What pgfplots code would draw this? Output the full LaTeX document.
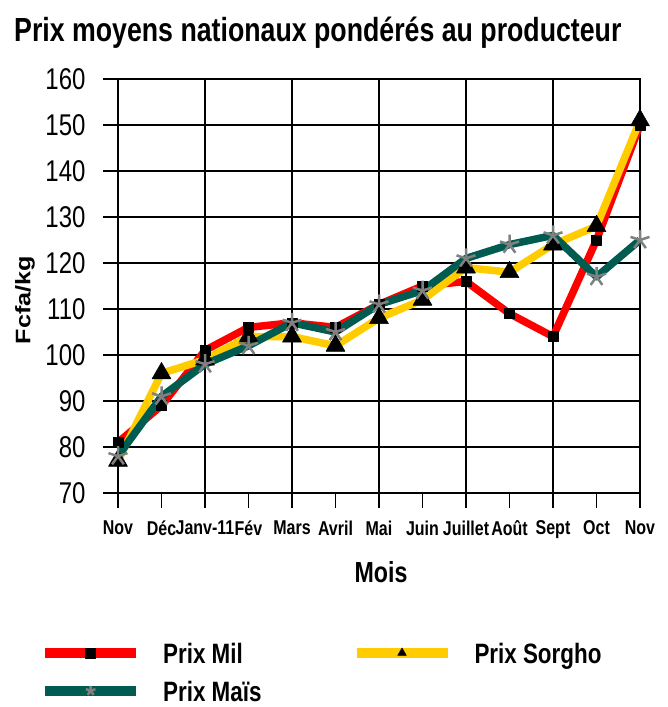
\documentclass[border=0pt]{standalone}
\usepackage{fontspec}
\setmainfont{Liberation Sans}[FakeStretch=0.8]
\newfontfamily\ylabfont{Liberation Sans}[FakeStretch=1.2]
\usepackage{pgfplots}
\pgfplotsset{compat=1.18}
\definecolor{milred}{RGB}{255,0,0}
\definecolor{sorgho}{RGB}{255,204,0}
\definecolor{mais}{RGB}{0,92,80}
\begin{document}
\begin{tikzpicture}[x=1pt,y=1pt]
\useasboundingbox (0,0) rectangle (667,707);
\node[anchor=base west, inner sep=0pt, font=\bfseries\fontsize{33.4}{38}\selectfont] at (14,665) {Prix moyens nationaux pondérés au producteur};
\begin{axis}[at={(118pt,214pt)}, anchor=south west, scale only axis,
  width=522pt, height=414pt,
  xmin=0, xmax=12, ymin=70, ymax=160,
  clip=false,
  xtick={0,...,12},
  xticklabels={Nov,Déc,Janv-11,Fév,Mars,Avril,Mai,Juin,Juillet,Août,Sept,Oct,Nov},
  ytick={70,80,...,160},
  ymajorgrids,
  extra x ticks={0,2,...,12}, extra x tick labels={},
  extra x tick style={xmajorgrids=true, major tick length=0pt},
  xtick pos=bottom, ytick pos=left,
  tick align=outside, major tick length=15pt,
  grid style={black, line width=1.2pt},
  axis line style={black, line width=1.5pt},
  tick style={black, line width=1.2pt},
  /pgf/number format/assume math mode=true,
  yticklabel style={font=\fontsize{30}{30}\selectfont, xshift=-14pt},
  xticklabel style={font=\bfseries\fontsize{20}{20}\selectfont, yshift=-9pt},
  xlabel={Mois},
  xlabel style={at={(axis description cs:0.504,-0.191)}, anchor=center, font=\bfseries\fontsize{29}{29}\selectfont},
  ylabel={Fcfa/kg},
  ylabel style={at={(axis description cs:-0.178,0.466)}, anchor=center, rotate=0, font=\ylabfont\bfseries\fontsize{21}{21}\selectfont},
  legend columns=2,
  legend style={at={(axis description cs:-0.1495,-0.362)}, anchor=north west, draw=none, fill=none,
    inner sep=0pt, nodes={inner sep=0pt}, row sep=16pt,
    font=\bfseries\fontsize{28}{28}\selectfont,
    /tikz/every odd column/.append style={column sep=22pt},
    /tikz/every even column/.append style={column sep=90pt}},
  legend cell align=left,
  legend image code/.code={\draw[mark repeat=2,mark phase=2,#1,line width=10pt,mark size=5pt] plot coordinates {(0pt,1pt) (45.5pt,1pt) (91pt,1pt)};},
  every axis plot/.append style={line join=round},
]
\addplot[milred, line width=7.5pt, mark=square*, mark size=5pt, mark options={black, line width=0.5pt}]
  coordinates {(0,81) (1,89) (2,101) (3,106) (4,107) (5,106) (6,111) (7,115) (8,116) (9,109) (10,104) (11,125) (12,150)};
\addlegendentry{Prix Mil}
\addplot[sorgho, line width=7.5pt, mark=triangle*, mark size=11pt, mark options={black, line width=0.5pt}]
  coordinates {(0,77) (1,96) (2,99) (3,104) (4,104) (5,102) (6,108) (7,112) (8,119) (9,118) (10,124) (11,128) (12,151)};
\addlegendentry{Prix Sorgho}
\addplot[mais, line width=7.5pt, mark=star, mark size=10pt, mark options={gray, line width=2.5pt}]
  coordinates {(0,78) (1,91) (2,98) (3,102) (4,107) (5,105) (6,111) (7,114) (8,121) (9,124) (10,126) (11,117) (12,125)};
\addlegendentry{Prix Maïs}
\end{axis}
\end{tikzpicture}
\end{document}
